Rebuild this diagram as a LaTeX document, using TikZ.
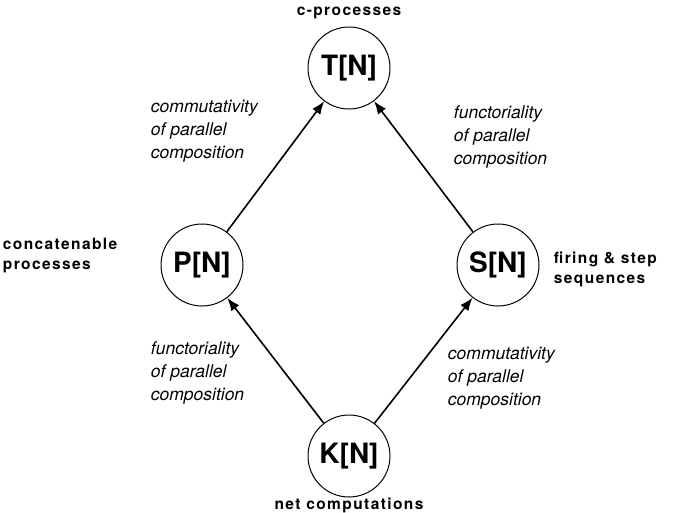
\documentclass[tikz,border=0pt]{standalone}
\usepackage{fontspec}
\setmainfont{TeX Gyre Heros}
\usetikzlibrary{arrows.meta}

\tikzset{
  net/.style={draw, circle, line width=1pt, minimum size=82pt, inner sep=0pt,
    font=\fontsize{28}{30}\selectfont\bfseries},
  tag/.style={inner sep=0.75pt, align=left,
    font=\fontsize{15.5}{20}\selectfont\bfseries\addfontfeature{LetterSpace=9}},
  law/.style={inner sep=0.75pt, align=left,
    font=\fontsize{17.5}{23}\selectfont\itshape},
  hom/.style={line width=1.6pt, -{Latex[length=13pt,width=10pt]}}
}

\begin{document}
\begin{tikzpicture}[x=1pt,y=1pt,yscale=-1]
    \useasboundingbox (0,0) rectangle (699,512);
    %Shape: Circles
    \node[net] (T) at (349,68) {T[N]};
    \node[net] (P) at (202,265) {P[N]};
    \node[net] (S) at (498,265) {S[N]};
    \node[net] (K) at (349,456) {K[N]};

    %Straight Lines
    \draw[hom] (P) -- (T);
    \draw[hom] (S) -- (T);
    \draw[hom] (K) -- (P);
    \draw[hom] (K) -- (S);

    % Text Node
    \node[tag] (tagT) at (349,13) {c-processes};
    % Text Node
    \node[tag, anchor=west] (tagP) at (2,256) {concatenable\\processes};
    % Text Node
    \node[tag, anchor=west] (tagS) at (553,269) {firing \& step\\sequences};
    % Text Node
    \node[tag] (tagK) at (349,505) {net computations};

    % Text Node
    \node[law, anchor=west] (lawPT) at (150,131) {commutativity\\of parallel\\composition};
    % Text Node
    \node[law, anchor=west] (lawST) at (453,137) {functoriality\\of parallel\\composition};
    % Text Node
    \node[law, anchor=west] (lawKP) at (150,373) {functoriality\\of parallel\\composition};
    % Text Node
    \node[law, anchor=west] (lawKS) at (447,378) {commutativity\\of parallel\\composition};
\end{tikzpicture}
\end{document}
